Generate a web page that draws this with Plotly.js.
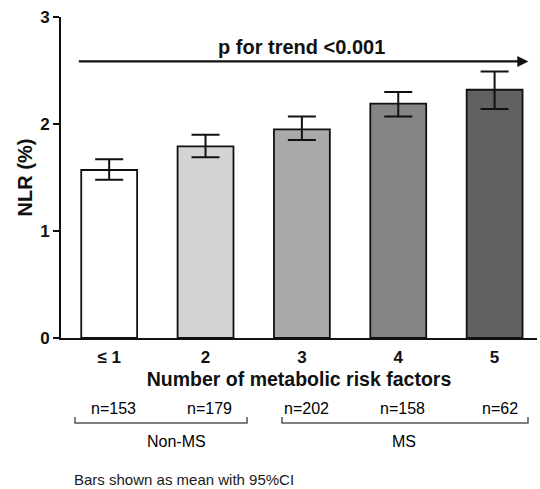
<!DOCTYPE html>
<html><head><meta charset="utf-8">
<script src="https://cdn.plot.ly/plotly-3.0.1.min.js"></script>
<style>body{margin:0;background:#fff}#c{width:540px;height:489px}</style>
</head><body><div id="c"></div>
<script>
const categories = ["\u2264 1", "2", "3", "4", "5"];
const means = [1.57, 1.79, 1.95, 2.19, 2.32];
const ciUpper = [1.67, 1.90, 2.07, 2.30, 2.49];
const ciLower = [1.48, 1.69, 1.85, 2.07, 2.14];
const nLabels = ["n=153", "n=179", "n=202", "n=158", "n=62"];
const groupLabels = ["Non-MS", "MS"];
const barColors = ["#ffffff", "#d4d4d4", "#a9a9a9", "#858585", "#616161"];

const F = "Arial, 'Liberation Sans', sans-serif";
const xs = categories.map((c, i) => i);

const trace = {
  type: "bar", x: xs, y: means, width: 0.58,
  marker: {color: barColors, line: {color: "#111", width: 1.8}},
  error_y: {type: "data", symmetric: false,
    array: ciUpper.map((u, i) => u - means[i]),
    arrayminus: means.map((m, i) => m - ciLower[i]),
    color: "#111", thickness: 2, width: 14},
  hoverinfo: "none"
};

// pixel -> paper helpers (layout positions only)
const PL = 61, PW = 476, PB = 338, PH = 321;
function ppx(x) { return (x - PL) / PW; }
function ppy(y) { return (PB - y) / PH; }

const nPosPx = [113, 209, 306, 402, 500];
const groupPosPx = [176, 404];
const annotations = [];
nLabels.forEach((t, i) => annotations.push({
  text: t, xref: "paper", yref: "paper", x: ppx(nPosPx[i]), y: ppy(408),
  xanchor: "center", yanchor: "middle",
  showarrow: false, font: {family: F, size: 16, color: "#000"}
}));
groupLabels.forEach((t, i) => annotations.push({
  text: t, xref: "paper", yref: "paper", x: ppx(groupPosPx[i]), y: ppy(441),
  xanchor: "center", yanchor: "middle",
  showarrow: false, font: {family: F, size: 16, color: "#000"}
}));
annotations.push({text: "Bars shown as mean with 95%CI", xref: "paper", yref: "paper",
  x: ppx(72), y: ppy(479), xanchor: "left", yanchor: "middle", showarrow: false,
  font: {family: F, size: 15, color: "#1a1a1a"}});
annotations.push({text: "<b>p for trend &lt;0.001</b>", xref: "x", yref: "y",
  x: 2.0, y: 2.72, showarrow: false, font: {family: F, size: 20, color: "#111"}});
annotations.push({x: 4.35, y: 2.585, ax: -0.33, ay: 2.585, xref: "x", yref: "y",
  axref: "x", ayref: "y", text: "", showarrow: true, arrowhead: 2, arrowsize: 1,
  arrowwidth: 2.2, arrowcolor: "#111"});

const gray = "#555";
function bracket(x0, x1) {
  return {type: "path", xref: "paper", yref: "paper",
    path: `M ${ppx(x0)} ${ppy(417)} L ${ppx(x0)} ${ppy(423)} L ${ppx(x1)} ${ppy(423)} L ${ppx(x1)} ${ppy(417)}`,
    line: {color: gray, width: 1.5}};
}
const shapes = [bracket(75, 247), bracket(282, 528)];

const layout = {
  width: 540, height: 489,
  margin: {l: PL, r: 540 - PL - PW, t: 17, b: 489 - PB},
  paper_bgcolor: "#fff", plot_bgcolor: "#fff",
  showlegend: false,
  xaxis: {range: [-0.5, 4.44], tickvals: xs, ticktext: categories.map(c => "<b>" + c + "</b>"),
    showline: true, linecolor: "#111", linewidth: 2, ticks: "outside", ticklen: 3, tickcolor: "rgba(0,0,0,0)",
    showgrid: false, zeroline: false,
    tickfont: {family: F, size: 17, color: "#111"},
    title: {text: "<b>Number of metabolic risk factors</b>", font: {family: F, size: 19.5, color: "#111"}, standoff: 6}},
  yaxis: {range: [0, 3], tickvals: [0, 1, 2, 3], ticktext: ["<b>0</b>", "<b>1</b>", "<b>2</b>", "<b>3</b>"],
    showline: true, linecolor: "#111", linewidth: 2, ticks: "outside", ticklen: 6, tickwidth: 2, tickcolor: "#111",
    showgrid: false, zeroline: false, tickfont: {family: F, size: 17, color: "#111"},
    title: {text: "<b>NLR (%)</b>", font: {family: F, size: 20, color: "#111"}, standoff: 2}},
  annotations: annotations, shapes: shapes
};
Plotly.newPlot("c", [trace], layout, {displayModeBar: false, staticPlot: true});
</script></body></html>
